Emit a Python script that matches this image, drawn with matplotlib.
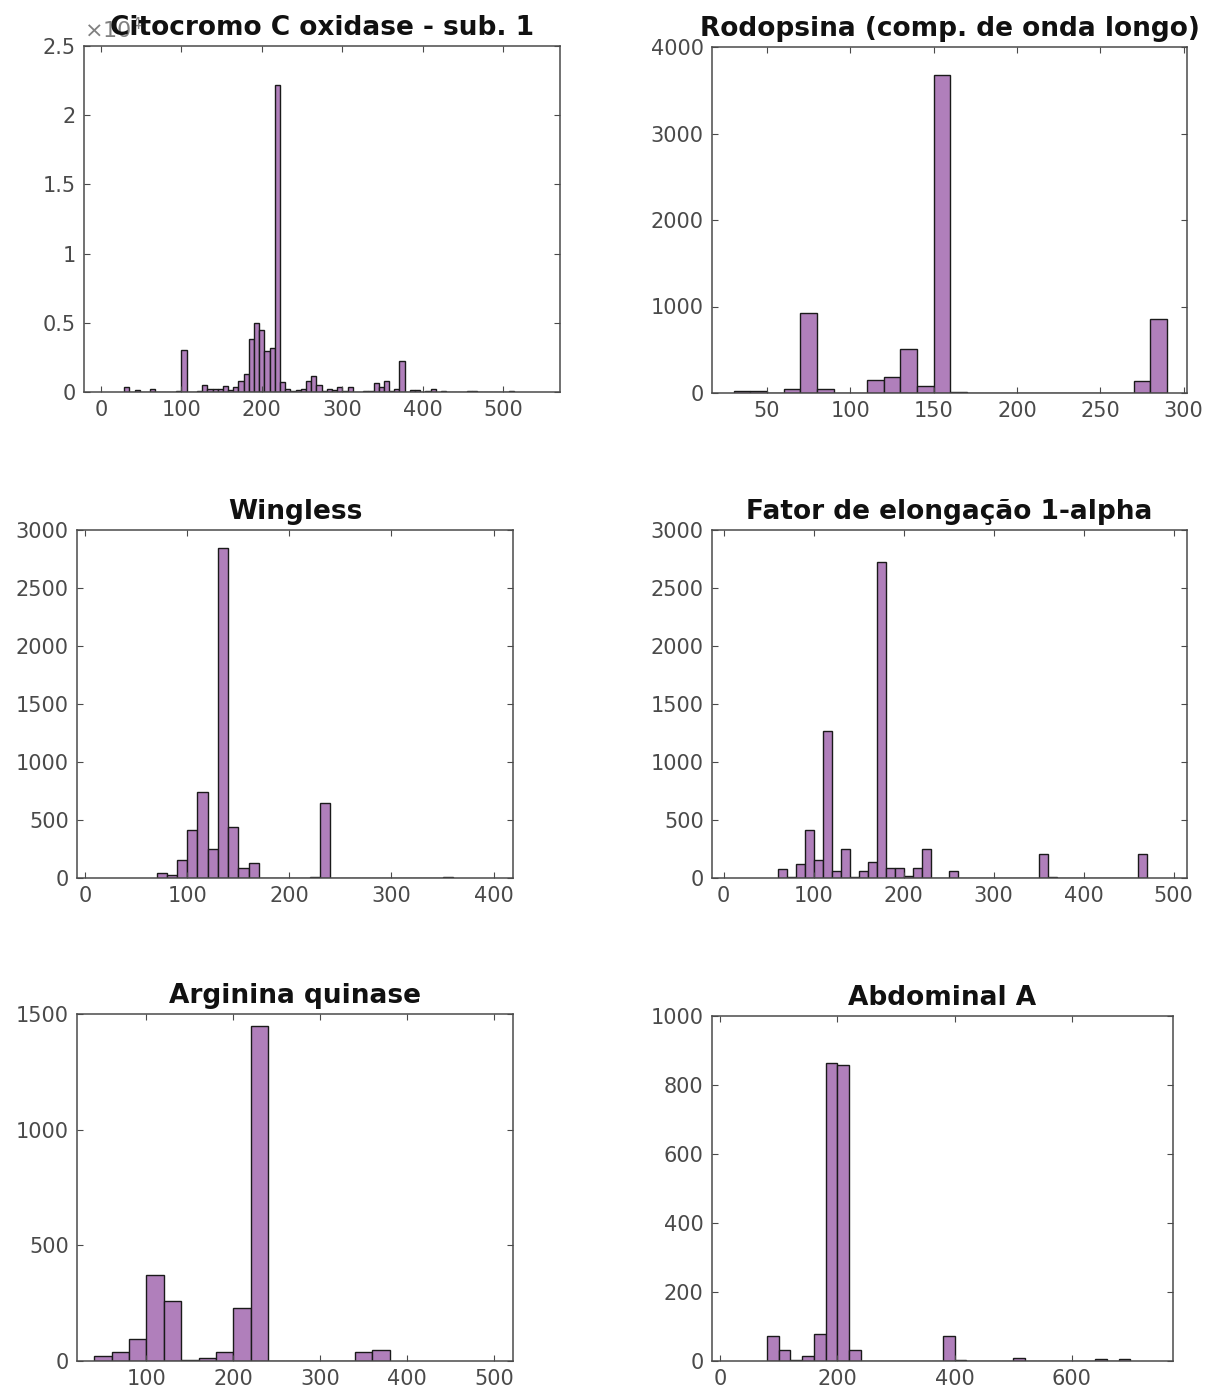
import numpy as np
import matplotlib
matplotlib.use("Agg")
import matplotlib.pyplot as plt
from matplotlib.ticker import FuncFormatter

plt.rcParams["font.family"] = ["DejaVu Sans"]

# ── Data: histogram counts (first bin left edge, bin width, counts) ──
cox_start, cox_width = 29, 6.46
cox_counts = [360, 0, 120, 0, 0, 200, 0, 0, 0, 0,
              100, 3050, 0, 0, 60, 480, 240, 240, 240, 400,
              120, 360, 800, 1300, 3800, 5000, 4500, 2950, 3150, 22200,
              750, 250, 60, 120, 240, 770, 1130, 480, 100, 240,
              120, 360, 80, 360, 0, 0, 40, 100, 650, 360,
              770, 50, 240, 2250, 0, 120, 120, 0, 80, 240,
              0, 100, 0, 0, 0, 0, 100, 100, 0, 0,
              0, 0, 0, 0, 100]

rod_start, rod_width = 30, 10
rod_counts = [20, 20, 0, 50, 930, 50, 0, 0, 150, 190, 510, 80, 3680, 15,
              0, 0, 0, 0, 0, 0, 0, 0, 0, 0, 135, 850]

wg_start, wg_width = 70, 10
wg_counts = [46, 29, 158, 411, 742, 253, 2842, 440, 89, 127,
             0, 0, 0, 0, 0, 8, 647,
             0, 0, 0, 0, 0, 0, 0, 0, 0, 0, 0, 10]

ef_start, ef_width = 60, 10
ef_counts = [75, 9, 124, 411, 153, 1266, 58, 253, 9, 60,
             138, 2721, 86, 86, 14, 86, 253, 0, 0, 60,
             0, 0, 0, 0, 0, 0, 0, 0, 0, 210, 8,
             0, 0, 0, 0, 0, 0, 0, 0, 0, 210]

ak_start, ak_width = 40, 20
ak_counts = [22, 40, 95, 372, 260, 4, 14, 40, 228, 1447,
             0, 0, 0, 0, 0, 37, 48]

abd_start, abd_width = 80, 20
abd_counts = [73, 31, 4, 14, 79, 864, 858, 31,
              0, 0, 0, 0, 0, 0, 0, 73, 4,
              0, 0, 0, 0, 10, 0, 0, 0, 0, 0, 0, 5, 0, 5]

titles = ["Citocromo C oxidase - sub. 1", "Rodopsina (comp. de onda longo)",
          "Wingless", "Fator de elongação 1-alpha",
          "Arginina quinase", "Abdominal A"]

# ── Layout (pixel boxes: left, right, top, bottom) ────────────────────
W, H = 1216, 1400
boxes = [(84, 560, 46, 392), (712, 1187, 47, 393),
         (77, 513, 530, 878), (712, 1187, 530, 878),
         (77, 513, 1014, 1361), (712, 1173, 1016, 1361)]
xlims = [(-21, 571), (17, 302), (-8, 419), (-13, 515), (20, 522), (-14, 773)]
ylims = [25000, 4000, 3000, 3000, 1500, 1000]
xticks = [np.arange(0, 501, 100), np.arange(50, 301, 50), np.arange(0, 401, 100),
          np.arange(0, 501, 100), np.arange(100, 501, 100), np.arange(0, 601, 200)]
ysteps = [5000, 1000, 500, 500, 500, 200]

series = [(cox_start, cox_width, cox_counts), (rod_start, rod_width, rod_counts),
          (wg_start, wg_width, wg_counts), (ef_start, ef_width, ef_counts),
          (ak_start, ak_width, ak_counts), (abd_start, abd_width, abd_counts)]

bar_color = "#b07fbb"
edge_color = "#1a1a1a"
tick_color = "#4a4a4a"

fig = plt.figure(figsize=(W / 100, H / 100), dpi=100)

for i, (start, width, counts) in enumerate(series):
    l, r, t, b = boxes[i]
    ax = fig.add_axes([l / W, 1 - b / H, (r - l) / W, (b - t) / H])
    lefts = start + width * np.arange(len(counts))
    ax.bar(lefts, counts, width=width, align="edge", color=bar_color,
           edgecolor=edge_color, linewidth=1.0)
    ax.set_xlim(*xlims[i])
    ax.set_ylim(0, ylims[i])
    ax.set_xticks(xticks[i])
    ax.set_yticks(np.arange(0, ylims[i] + 1, ysteps[i]))
    ax.tick_params(direction="in", top=True, right=True, length=4, width=0.8,
                   colors=tick_color, labelsize=15, pad=6)
    for sp in ax.spines.values():
        sp.set_color(tick_color)
        sp.set_linewidth(1.1)
    if i == 0:
        ax.yaxis.set_major_formatter(FuncFormatter(lambda v, p: f"{v / 1e4:g}"))
        ax.text(0.0, 1.01, r"$\times10^{4}$", transform=ax.transAxes,
                ha="left", va="bottom", fontsize=16, color="#808080")
    ax.set_title(titles[i], fontsize=19, fontweight="bold", color="#111111",
                 pad=8, zorder=5)

fig.savefig("out.png", dpi=100, facecolor="white")
